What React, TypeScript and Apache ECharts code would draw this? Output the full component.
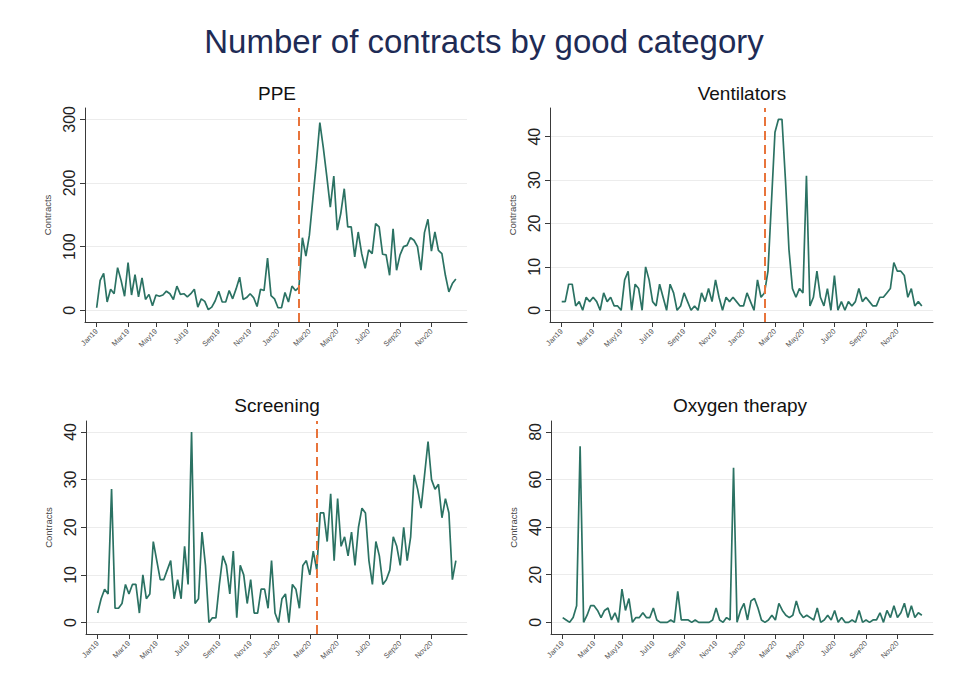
import React, { useEffect, useRef } from "react";
import * as echarts from "echarts";

// Weekly contract counts, 2019w1 .. 2020w52 (52 weeks per year)
const ppe = [
  4, 47, 58, 13, 33, 26, 67, 47, 22, 75, 24, 56, 21, 51, 17, 25, 7, 24, 22, 24,
  30, 26, 17, 38, 25, 26, 21, 26, 33, 5, 18, 14, 1, 5, 15, 30, 13, 13, 31, 18,
  34, 52, 17, 20, 26, 20, 6, 33, 31, 82, 23, 18, 4, 4, 28, 13, 38, 31, 36, 114,
  85, 118, 175, 232, 295, 255, 210, 162, 211, 126, 152, 191, 131, 131, 84, 123, 89, 66, 95, 89,
  136, 131, 88, 87, 55, 128, 63, 87, 100, 102, 114, 110, 100, 63, 122, 143, 93, 123, 94, 89,
  55, 29, 42, 49,
];

const ventilators = [
  2, 2, 6, 6, 1, 2, 0, 3, 2, 3, 2, 0, 4, 2, 3, 1, 1, 0, 7, 9,
  0, 6, 5, 0, 10, 7, 2, 1, 6, 3, 0, 6, 4, 0, 1, 4, 2, 0, 1, 0,
  4, 2, 5, 2, 7, 3, 0, 3, 2, 3, 2, 1, 1, 4, 2, 0, 7, 3, 4, 9,
  25, 41, 44, 44, 30, 14, 5, 3, 5, 4, 31, 1, 3, 9, 3, 1, 5, 0, 8, 0,
  2, 0, 2, 1, 2, 5, 2, 3, 2, 1, 1, 3, 3, 4, 5, 11, 9, 9, 8, 3,
  5, 1, 2, 1,
];

const screening = [
  2, 5, 7, 6, 28, 3, 3, 4, 8, 6, 8, 8, 2, 10, 5, 6, 17, 13, 9, 9,
  11, 13, 5, 9, 5, 16, 8, 40, 4, 5, 19, 12, 0, 1, 1, 8, 14, 12, 6, 15,
  1, 12, 10, 4, 9, 2, 2, 7, 7, 3, 13, 2, 0, 5, 6, 0, 8, 7, 3, 12,
  13, 10, 15, 11, 23, 23, 17, 27, 13, 26, 16, 18, 14, 19, 12, 20, 24, 23, 13, 8,
  17, 14, 8, 9, 11, 18, 16, 12, 20, 13, 18, 31, 28, 24, 31, 38, 30, 28, 29, 22,
  26, 23, 9, 13,
];

const oxygenTherapy = [
  2, 1, 0, 2, 7, 74, 0, 3, 7, 7, 5, 2, 5, 6, 1, 4, 0, 14, 5, 10,
  0, 2, 2, 4, 2, 2, 6, 1, 0, 0, 0, 1, 0, 13, 1, 1, 1, 0, 1, 0,
  0, 0, 0, 1, 6, 1, 0, 2, 1, 65, 0, 5, 8, 1, 9, 10, 6, 1, 0, 1,
  3, 1, 8, 5, 3, 2, 3, 9, 4, 2, 3, 2, 1, 6, 0, 1, 3, 1, 5, 0,
  2, 0, 0, 1, 0, 5, 0, 1, 0, 1, 1, 4, 0, 5, 2, 7, 2, 4, 8, 2,
  7, 2, 4, 3,
];

// Month ticks placed on the weekly axis
const weekTicks = [0, 9, 17, 26, 35, 44, 52, 61, 69, 78, 87, 96];
const tickLabels = [
  "Jan19", "Mar19", "May19", "Jul19", "Sep19", "Nov19",
  "Jan20", "Mar20", "May20", "Jul20", "Sep20", "Nov20",
];

const FONT = '"Liberation Sans", Arial, Helvetica, sans-serif';
const LINE_COLOR = "#2b7263";
const MARK_COLOR = "#e8743b";
const AXIS_COLOR = "#3a3a3a";

const panels = [
  {
    title: "PPE", values: ppe, yMin: -18.4, yMax: 317.8, yTicks: [0, 100, 200, 300], marker: 58,
    grid: { left: 85, top: 108, width: 382, height: 214 }, titleX: 272, titleTop: 79,
  },
  {
    title: "Ventilators", values: ventilators, yMin: -2.7, yMax: 46.6, yTicks: [0, 10, 20, 30, 40], marker: 58,
    grid: { left: 550, top: 108, width: 383, height: 214 }, titleX: 737, titleTop: 79,
  },
  {
    title: "Screening", values: screening, yMin: -2.4, yMax: 42.3, yTicks: [0, 10, 20, 30, 40], marker: 63,
    grid: { left: 86, top: 421, width: 381, height: 213 }, titleX: 272, titleTop: 391,
  },
  {
    title: "Oxygen therapy", values: oxygenTherapy, yMin: -4.9, yMax: 84.6, yTicks: [0, 20, 40, 60, 80], marker: null,
    grid: { left: 551, top: 421, width: 382, height: 213 }, titleX: 735, titleTop: 391,
  },
];

export default function App() {
  const ref = useRef<HTMLDivElement>(null);

  useEffect(() => {
    if (!ref.current) return;
    const chart = echarts.init(ref.current, null, { renderer: "svg" });

    const option: any = {
      animation: false,
      backgroundColor: "#ffffff",
      title: [
        {
          text: "Number of contracts by good category",
          left: "center",
          top: 20,
          textStyle: { fontSize: 33, fontWeight: "normal", color: "#1e2b55", fontFamily: FONT },
        },
        ...panels.map((p) => ({
          text: p.title,
          left: p.titleX,
          top: p.titleTop,
          textAlign: "center",
          textStyle: { fontSize: 19, fontWeight: "normal", color: "#111111", fontFamily: FONT },
        })),
      ],
      grid: panels.map((p) => ({ ...p.grid, containLabel: false })),
      xAxis: panels.map((p, i) => ({
        type: "value",
        gridIndex: i,
        min: -3.35,
        max: 106.2,
        axisLine: { show: true, onZero: false, lineStyle: { color: AXIS_COLOR, width: 1 } },
        axisTick: { show: true, length: 5, customValues: weekTicks, lineStyle: { color: AXIS_COLOR } },
        axisLabel: {
          customValues: weekTicks,
          rotate: 45,
          fontSize: 7.5,
          color: "#555555",
          fontFamily: FONT,
          margin: 8,
          formatter: (v: number) => tickLabels[weekTicks.indexOf(v)] ?? "",
        },
        splitLine: { show: false },
      })),
      yAxis: panels.map((p, i) => ({
        type: "value",
        gridIndex: i,
        min: p.yMin,
        max: p.yMax,
        name: "Contracts",
        nameLocation: "middle",
        nameGap: 33,
        nameTextStyle: { fontSize: 9.5, color: "#444444", fontFamily: FONT },
        axisLine: { show: true, onZero: false, lineStyle: { color: AXIS_COLOR, width: 1 } },
        axisTick: { show: true, length: 5, customValues: p.yTicks, lineStyle: { color: AXIS_COLOR } },
        axisLabel: {
          customValues: p.yTicks,
          rotate: 90,
          fontSize: 16,
          color: "#222222",
          fontFamily: FONT,
          margin: 8,
        },
        splitLine: { show: true, lineStyle: { color: "#ececec", width: 1 } },
      })),
      series: panels.map((p, i) => ({
        type: "line",
        name: p.title,
        xAxisIndex: i,
        yAxisIndex: i,
        data: p.values.map((v, w) => [w, v]),
        showSymbol: false,
        symbol: "none",
        lineStyle: { color: LINE_COLOR, width: 1.7 },
        markLine:
          p.marker === null
            ? undefined
            : {
                silent: true,
                symbol: ["none", "none"],
                label: { show: false },
                lineStyle: { color: MARK_COLOR, type: [9, 5], width: 2 },
                data: [{ xAxis: p.marker }],
              },
      })),
    };

    chart.setOption(option);
    return () => chart.dispose();
  }, []);

  return (
    <div
      ref={ref}
      style={{ position: "absolute", left: 0, top: 0, width: 968, height: 696, background: "#fff" }}
    />
  );
}
